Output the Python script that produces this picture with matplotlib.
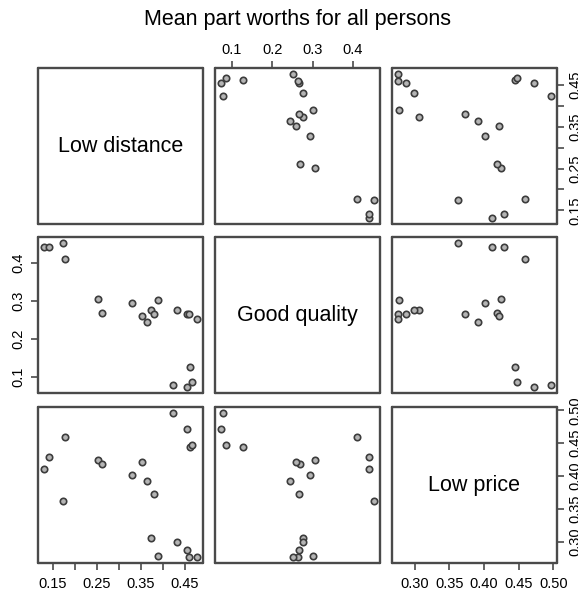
import matplotlib as mpl
mpl.use('Agg')
import matplotlib.pyplot as plt
import numpy as np

plt.rcParams['font.family'] = ['Liberation Sans', 'DejaVu Sans']

names = ['Low distance', 'Good quality', 'Low price']

low_distance = [0.131, 0.142, 0.174, 0.178, 0.252, 0.261, 0.329, 0.352, 0.365, 0.374,
                0.380, 0.390, 0.431, 0.455, 0.460, 0.477, 0.461, 0.423, 0.455, 0.467]
good_quality = [0.440, 0.441, 0.452, 0.409, 0.305, 0.268, 0.293, 0.259, 0.244, 0.276,
                0.266, 0.301, 0.276, 0.266, 0.264, 0.252, 0.127, 0.078, 0.073, 0.086]
low_price = [0.411, 0.429, 0.362, 0.459, 0.424, 0.419, 0.402, 0.421, 0.392, 0.306,
             0.372, 0.278, 0.299, 0.287, 0.276, 0.276, 0.445, 0.4965, 0.472, 0.447]

ld_ticks = [0.15, 0.20, 0.25, 0.30, 0.35, 0.40, 0.45]
ld_labels = ['0.15', '', '0.25', '', '0.35', '', '0.45']
gq_ticks = [0.1, 0.2, 0.3, 0.4]
gq_labels = ['0.1', '0.2', '0.3', '0.4']
lp_ticks = [0.30, 0.35, 0.40, 0.45, 0.50]
lp_labels = ['0.30', '0.35', '0.40', '0.45', '0.50']

data = [np.array(low_distance), np.array(good_quality), np.array(low_price)]
ticks = [(ld_ticks, ld_labels), (gq_ticks, gq_labels), (lp_ticks, lp_labels)]

W, H = 578, 592
fig = plt.figure(figsize=(W / 100, H / 100), dpi=100)

col_left = [38, 215, 392]
row_top = [68, 237, 407]
pw, ph = 165, 156
box = '#4a4a4a'

def lims(v):
    r = v.max() - v.min()
    return v.min() - 0.04 * r, v.max() + 0.04 * r

axes = {}
for i in range(3):
    for j in range(3):
        ax = fig.add_axes([col_left[j] / W, 1 - (row_top[i] + ph) / H, pw / W, ph / H])
        axes[i, j] = ax
        for s in ax.spines.values():
            s.set_color(box)
            s.set_linewidth(1.7)
            s.set_capstyle('round')
        ax.set_xlim(*lims(data[j]))
        ax.set_ylim(*lims(data[i]))
        ax.set_xticks([])
        ax.set_yticks([])
        if i == j:
            ax.text(0.5, 0.5, names[i], transform=ax.transAxes, ha='center', va='center',
                    fontsize=15.5)
        else:
            ax.plot(data[j], data[i], 'o', ms=4.6, mfc='#b4b4b4', mec='#3c3c3c', mew=1.2,
                    linestyle='none')

tick_kw = dict(direction='out', length=5, width=1.2, color=box, labelsize=10.5,
               labelcolor='black')

# top axis: column 2
ax = axes[0, 1]
ax.xaxis.tick_top()
ax.set_xticks(ticks[1][0], ticks[1][1])
ax.tick_params(axis='x', pad=3, **tick_kw)

# bottom axes: columns 1 and 3
for j in (0, 2):
    ax = axes[2, j]
    ax.set_xticks(ticks[j][0], ticks[j][1])
    ax.tick_params(axis='x', pad=5, **tick_kw)

# left axis: row 2
ax = axes[1, 0]
ax.set_yticks(ticks[1][0], ticks[1][1])
ax.tick_params(axis='y', pad=4, **tick_kw)
for lab in ax.get_yticklabels():
    lab.set_rotation(90)
    lab.set_va('center')
    lab.set_ha('right')

# right axes: rows 1 and 3
for i in (0, 2):
    ax = axes[i, 2]
    ax.yaxis.tick_right()
    ax.set_yticks(ticks[i][0], ticks[i][1])
    ax.tick_params(axis='y', pad=3, **tick_kw)
    for lab in ax.get_yticklabels():
        lab.set_rotation(90)
        lab.set_va('center')
        lab.set_ha('left')

fig.text(297.5 / W, 1 - 19 / H, 'Mean part worths for all persons', ha='center', va='center',
         fontsize=15.5)

fig.savefig('out.png', dpi=100)
